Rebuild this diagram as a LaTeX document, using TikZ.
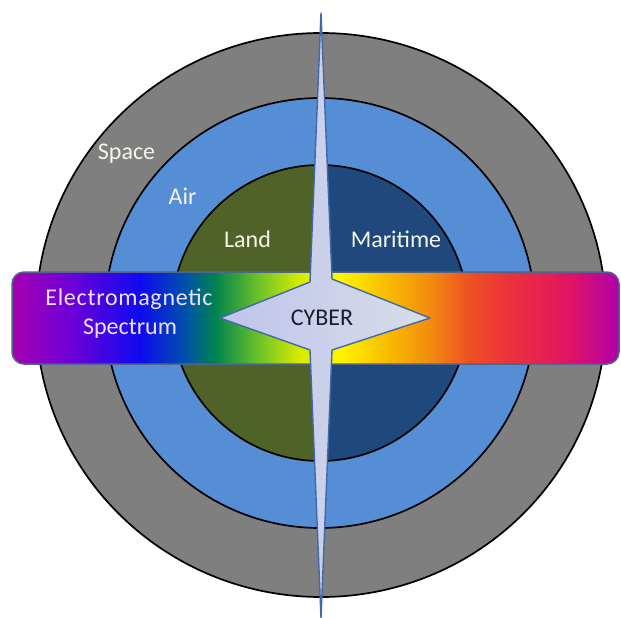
\documentclass[tikz,border=0pt]{standalone}
\usepackage{fontspec}
\setmainfont{Carlito}
\definecolor{spacegray}{RGB}{127,127,127}
\definecolor{airblue}{RGB}{85,142,213}
\definecolor{landgreen}{RGB}{79,98,40}
\definecolor{seablue}{RGB}{31,73,125}
\definecolor{bandedge}{RGB}{80,100,140}
\definecolor{cyberedge}{RGB}{65,105,170}
\definecolor{cybertext}{RGB}{25,30,45}
\definecolor{labelwhite}{RGB}{245,245,235}
\definecolor{emtext}{RGB}{238,225,252}
\definecolor{cyberleft}{RGB}{192,196,236}
\definecolor{cybermid}{RGB}{240,242,255}
\definecolor{cyberright}{RGB}{214,222,232}
\pgfdeclarehorizontalshading{spectrum}{100bp}{%
rgb(0bp)=(0.647,0,0.686);
rgb(25bp)=(0.647,0,0.686);
rgb(29.77bp)=(0.431,0,0.843);
rgb(35.53bp)=(0.059,0.039,0.941);
rgb(39.23bp)=(0,0.314,0.667);
rgb(41.69bp)=(0,0.51,0.314);
rgb(45.39bp)=(0.431,0.765,0.157);
rgb(48.68bp)=(0.843,0.922,0);
rgb(51.97bp)=(1,0.961,0);
rgb(56.09bp)=(0.973,0.725,0);
rgb(59.38bp)=(0.949,0.549,0.059);
rgb(62.67bp)=(0.933,0.314,0.137);
rgb(65.96bp)=(0.922,0.196,0.235);
rgb(70.89bp)=(0.882,0.078,0.392);
rgb(75bp)=(0.686,0,0.667);
rgb(100bp)=(0.686,0,0.667)}
\begin{document}
\begin{tikzpicture}[x=1pt,y=-1pt,
  ring/.style={draw=black,line width=1.7pt},
  lbl/.style={text=labelwhite,font=\fontsize{24}{29}\selectfont,inner sep=0pt,anchor=base},
  emlbl/.style={text=emtext,font=\fontsize{24}{29}\selectfont,inner sep=0pt,anchor=base}]
\useasboundingbox (0,0) rectangle (621,618);
\fill[white] (0,0) rectangle (621,618);
% rings
\draw[ring,fill=spacegray] (321,315) ellipse[x radius=285pt,y radius=282pt];
\draw[ring,fill=airblue] (320,313) circle[radius=215pt];
\begin{scope}
  \clip (0,0) rectangle (321,618);
  \fill[landgreen] (320,313) circle[radius=148pt];
\end{scope}
\begin{scope}
  \clip (321,0) rectangle (621,618);
  \fill[seablue] (320,313) circle[radius=148pt];
\end{scope}
\draw[ring] (320,313) circle[radius=148pt];
% labels
\node[lbl] (space) at (126.5,159) {Space};
\node[lbl] (air) at (182.5,204) {Air};
\node[lbl] (land) at (247.5,247) {Land};
\node[lbl] (maritime) at (396,247) {Maritime};
% spectrum band
\shadedraw[shading=spectrum,draw=bandedge,line width=1.5pt,rounded corners=12pt]
  (12,272) rectangle (619,364);
\node[emlbl] (em1) at (129,305) {\addfontfeature{LetterSpace=3}Electromagnetic};
\node[emlbl] (em2) at (130,334) {Spectrum};
% cyber star
\path[draw=cyberedge,line width=1.4pt,line join=round,
      left color=cyberleft,middle color=cybermid,right color=cyberright]
  (321,13) -- (310,282) -- (220,318) -- (310,350) -- (321,618)
  -- (332,350) -- (430,318) -- (332,279) -- cycle;
\node[text=cybertext,font=\fontsize{24}{29}\selectfont,inner sep=0pt,anchor=base] (cyber) at (322,325) {CYBER};
\end{tikzpicture}
\end{document}
